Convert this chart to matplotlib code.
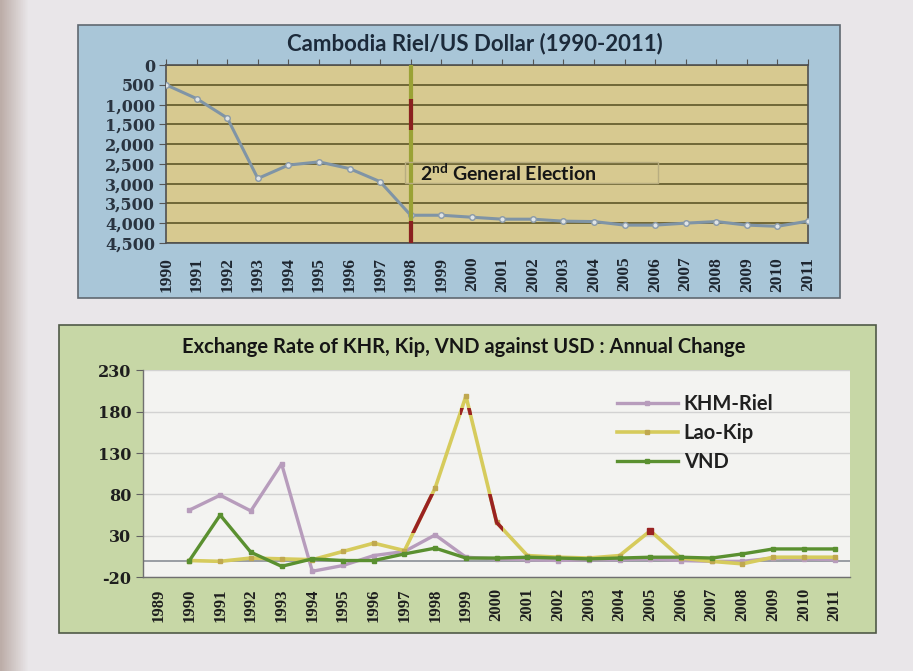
import matplotlib
matplotlib.use("Agg")
import matplotlib.pyplot as plt
import numpy as np
from matplotlib.patches import Rectangle

# ---------------- data ----------------
riel_years = list(range(1990, 2012))
riel_rate = [500, 850, 1340, 2870, 2530, 2450, 2620, 2950, 3800, 3800, 3850,
             3900, 3900, 3950, 3960, 4050, 4050, 4000, 3960, 4050, 4080, 3950]

chg_years = list(range(1990, 2012))
khm_riel = [61, 79, 60, 117, -13, -6, 6, 11, 31, 4, 2, 1, 0, 1, 1, 2, 0, -1, -1, 3, 2, 1]
lao_kip = [0, -1, 3, 2, 1, 11, 21, 12, 88, 199, 46, 6, 4, 3, 6, 36, 3, -1, -4, 4, 4, 4]
vnd = [0, 55, 10, -7, 2, 0, 0, 8, 15, 3, 3, 4, 3, 2, 3, 4, 4, 3, 8, 14, 14, 14]

cat_labels = [str(y) for y in range(1989, 2012)]
election_year = 1998

# ---------------- figure ----------------
fig = plt.figure(figsize=(9.13, 6.71), dpi=100)
fig.patch.set_facecolor("#e8e6e9")

# page shading
bg = fig.add_axes([0, 0, 1, 1], zorder=-10)
grad = np.linspace(0, 1, 400)
shade = np.clip(grad / 0.03, 0, 1)
img = np.zeros((2, 400, 3))
left = np.array([0.74, 0.68, 0.66])
mid = np.array([0.915, 0.905, 0.915])
for i in range(400):
    img[:, i, :] = left * (1 - shade[i]) + mid * shade[i]
bg.imshow(img, aspect="auto", extent=[0, 1, 0, 1])
bg.set_axis_off()

title_font = dict(family="Lato", weight="bold")
tick_serif = dict(family="DejaVu Serif", weight="bold")

# ---------------- top chart frame ----------------
fig.patches.append(Rectangle((0.085, 0.556), 0.835, 0.407, transform=fig.transFigure,
                             facecolor="#a9c6d8", edgecolor="#606870", lw=1.2, zorder=-5))
fig.text(0.52, 0.935, "Cambodia Riel/US Dollar (1990-2011)", ha="center", va="center",
         fontsize=16, color="#1c2a3a", **title_font)

ax1 = fig.add_axes([0.182, 0.638, 0.703, 0.265])
ax1.set_facecolor("#d7c990")
ax1.plot(riel_years, riel_rate, color="#7f94a6", lw=2.2, marker="o", ms=4,
         mfc="#dfe4e6", mec="#8a9aa8", zorder=3)
ax1.set_ylim(4500, 0)
ax1.set_xlim(1990, 2011)
ax1.set_yticks(range(0, 4501, 500))
ax1.set_yticklabels([f"{v:,}" for v in range(0, 4501, 500)], fontsize=11.5,
                    color="#2a3440", **tick_serif)
ax1.set_xticks(riel_years)
ax1.set_xticklabels([str(y) for y in riel_years], rotation=90, fontsize=12.5,
                    color="#1e2630", family="Liberation Serif", weight="bold")
ax1.grid(axis="y", color="#5e5628", lw=1.2)
ax1.set_axisbelow(True)
ax1.tick_params(axis="y", length=5, color="#555555", pad=3)
ax1.tick_params(axis="x", length=4, color="#555555", top=True, bottom=False,
                labeltop=False, labelbottom=True, pad=6)
for s in ax1.spines.values():
    s.set_color("#505050")
    s.set_linewidth(1.2)

# election line
ax1.axvline(election_year, color="#9aa235", lw=3, zorder=4)
ax1.vlines(election_year, 850, 1650, color="#8a2020", lw=3, zorder=5)
ax1.vlines(election_year, 3950, 4500, color="#8a2020", lw=3, zorder=5)
ax1.add_patch(Rectangle((1997.8, 2450), 8.3, 530, facecolor="none",
                        edgecolor="#b8ad80", lw=1, zorder=4))
ax1.text(1998.3, 2720, r"2$^{\mathregular{nd}}$ General Election", fontsize=14,
         color="#151515", va="center", ha="left", zorder=6, **title_font)

# ---------------- bottom chart frame ----------------
fig.patches.append(Rectangle((0.065, 0.057), 0.894, 0.459, transform=fig.transFigure,
                             facecolor="#c7d7a6", edgecolor="#505a48", lw=1.2, zorder=-5))
fig.text(0.508, 0.483, "Exchange Rate of KHR, Kip, VND against USD : Annual Change",
         ha="center", va="center", fontsize=14.5, color="#151515", **title_font)

ax2 = fig.add_axes([0.157, 0.140, 0.774, 0.308])
ax2.set_facecolor("#f3f3f1")
ax2.set_xlim(1988.5, 2011.5)
ax2.set_ylim(-20, 230)
ax2.set_yticks(range(-20, 231, 50))
ax2.set_yticklabels([str(v) for v in range(-20, 231, 50)], fontsize=11.5,
                    color="#1e1e1e", **tick_serif)
ax2.set_xticks(range(1989, 2012))
ax2.set_xticklabels(cat_labels, rotation=90, fontsize=12, color="#1e1e1e",
                    family="Liberation Serif", weight="bold")
ax2.grid(axis="y", color="#d2d2d2", lw=1)
ax2.set_axisbelow(True)
ax2.axhline(0, color="#8a8f96", lw=1.2, zorder=1)
ax2.tick_params(axis="x", length=0, pad=8)
ax2.tick_params(axis="y", length=5, color="#606060")
for k, s in ax2.spines.items():
    s.set_color("#707070")
    s.set_linewidth(1)
ax2.spines["top"].set_visible(False)
ax2.spines["right"].set_visible(False)

l_khm, = ax2.plot(chg_years, khm_riel, color="#b79cbc", lw=2.4, marker="s", ms=3,
                  label="KHM-Riel", zorder=3)
l_lao, = ax2.plot(chg_years, lao_kip, color="#d6cb5c", lw=2.6, marker="s", ms=3,
                  mfc="#c0a850", mec="#c0a850", label="Lao-Kip", zorder=4)
l_vnd, = ax2.plot(chg_years, vnd, color="#5a9030", lw=2.4, marker="s", ms=3,
                  label="VND", zorder=5)

# red highlighted parts of the Lao-Kip line
red_lao, = ax2.plot(chg_years, lao_kip, color="#9a2222", lw=2.6, zorder=6)
red_lao.set_clip_path(Rectangle((1997, 33), 3.2, 48, transform=ax2.transData))
red_peak, = ax2.plot(chg_years, lao_kip, color="#9a2222", lw=2.6, zorder=6)
red_peak.set_clip_path(Rectangle((1998.8, 176), 0.4, 8, transform=ax2.transData))
ax2.plot([chg_years[15]], [lao_kip[15]], marker="s", ms=5, color="#9a2222", zorder=7)

ax2.legend(handles=[l_khm, l_lao, l_vnd], loc="upper left",
           bbox_to_anchor=(0.645, 0.975), frameon=False, handlelength=3.0,
           labelspacing=0.45, handletextpad=0.3,
           prop=dict(family="Lato", weight="bold", size=14.5),
           labelcolor="#202020")

fig.savefig("out.png", dpi=100)
